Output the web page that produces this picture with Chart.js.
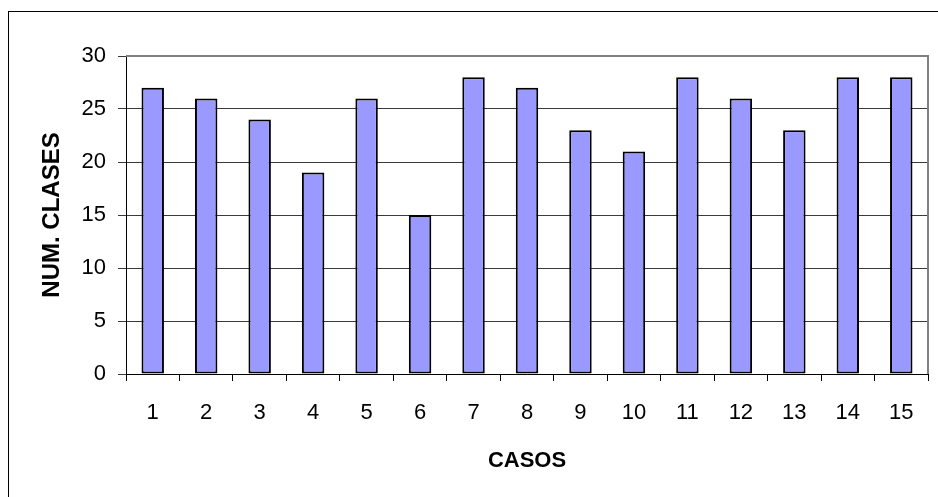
<!DOCTYPE html>
<html>
<head>
<meta charset="utf-8">
<script src="https://cdn.jsdelivr.net/npm/chart.js@4.4.0/dist/chart.umd.min.js"></script>
<style>
  html, body { margin: 0; padding: 0; background: #fff; }
  #wrap { width: 938px; height: 497px; position: relative; }
</style>
</head>
<body>
<div id="wrap"><canvas id="chart" width="938" height="497"></canvas></div>
<script>
// datos del gráfico
const casos = ["1", "2", "3", "4", "5", "6", "7", "8", "9", "10", "11", "12", "13", "14", "15"];
const numClases = [27, 26, 24, 19, 26, 15, 28, 27, 23, 21, 28, 26, 23, 28, 28];
const yTicks = [0, 5, 10, 15, 20, 25, 30];

const fontFam = "'Liberation Sans', Arial, sans-serif";

// marco exterior + borde gris del area de trazado
const marco = {
  id: "marco",
  beforeDraw(chart) {
    const ctx = chart.ctx;
    ctx.save();
    ctx.strokeStyle = "#000";
    ctx.lineWidth = 1;
    ctx.strokeRect(8.5, 11.5, 960, 520);
    ctx.restore();
  },
  afterDraw(chart) {
    const a = chart.chartArea;
    const ctx = chart.ctx;
    ctx.save();
    ctx.strokeStyle = "#808080";
    ctx.lineWidth = 2;
    ctx.beginPath();
    ctx.moveTo(a.left, a.top);
    ctx.lineTo(a.right, a.top);
    ctx.lineTo(a.right, a.bottom);
    ctx.stroke();
    ctx.restore();
  }
};

new Chart(document.getElementById("chart"), {
  type: "bar",
  data: {
    labels: casos,
    datasets: [{
      data: numClases,
      backgroundColor: "#9999ff",
      borderColor: "#000",
      borderWidth: 2,
      borderSkipped: false,
      categoryPercentage: 1,
      barPercentage: 0.42
    }]
  },
  options: {
    responsive: false,
    animation: false,
    layout: { padding: { top: 56, right: 10, left: 0, bottom: 0 } },
    plugins: { legend: { display: false }, tooltip: { enabled: false } },
    scales: {
      x: {
        grid: { display: true, drawOnChartArea: false, drawTicks: true, tickLength: 7, color: "#000", offset: true },
        border: { color: "#000", width: 1 },
        ticks: { color: "#000", font: { family: fontFam, size: 22 }, padding: 19, maxRotation: 0 },
        title: { display: true, text: "CASOS", color: "#000", font: { family: fontFam, size: 22, weight: "bold" }, padding: { top: 0, bottom: 23 } },
        afterFit(scale) { scale.height = 123; }
      },
      y: {
        min: 0,
        max: 30,
        afterBuildTicks(scale) { scale.ticks = yTicks.map(v => ({ value: v })); },
        grid: { color: "#3a3a3a", lineWidth: 1, tickLength: 8 },
        border: { color: "#000", width: 1 },
        ticks: { color: "#000", font: { family: fontFam, size: 22 }, padding: 12 },
        title: { display: true, text: "NUM. CLASES", color: "#000", font: { family: fontFam, size: 24, weight: "bold" }, padding: { top: 38, bottom: 0 } },
        afterFit(scale) { scale.width = 126; }
      }
    }
  },
  plugins: [marco]
});
</script>
</body>
</html>
